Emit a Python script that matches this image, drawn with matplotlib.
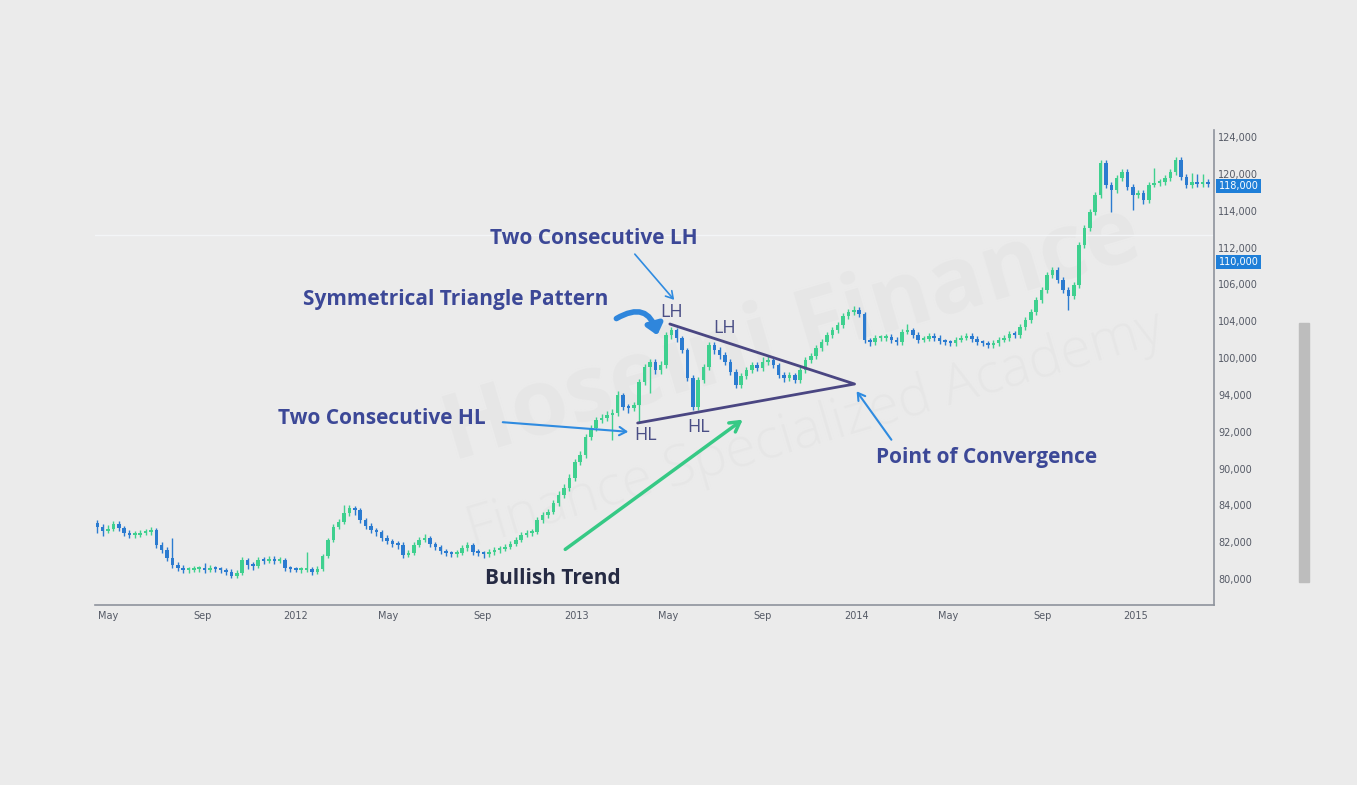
import matplotlib
matplotlib.use("Agg")
import matplotlib.pyplot as plt
import matplotlib.dates as mdates
from matplotlib.patches import Rectangle, FancyArrowPatch
import numpy as np
import pandas as pd

W, H = 1357, 785

# weekly candles, prices in thousands
first_open = 85.6
closes = [
    85.2, 84.8, 85.0, 85.5, 85.1, 84.6, 84.4, 84.4, 84.6, 84.7,
    84.9, 83.4, 82.9, 82.1, 81.4, 81.1, 80.9, 80.9, 81.0, 81.0,
    80.9, 81.1, 81.0, 80.9, 80.7, 80.3, 80.6, 81.9, 81.4, 81.3,
    81.9, 81.8, 82.0, 81.8, 81.9, 81.1, 81.0, 80.9, 80.9, 81.0,
    80.7, 81.0, 82.3, 83.9, 85.2, 85.7, 86.6, 87.1, 86.9, 85.9,
    85.3, 84.9, 84.7, 84.1, 83.8, 83.5, 83.4, 82.4, 82.6, 83.4,
    83.9, 84.1, 83.5, 83.2, 82.8, 82.6, 82.5, 82.6, 83.1, 83.4,
    82.7, 82.6, 82.5, 82.7, 82.9, 83.0, 83.2, 83.5, 83.9, 84.4,
    84.6, 84.7, 85.9, 86.4, 86.7, 87.6, 88.4, 89.1, 90.1, 91.7,
    92.4, 94.2, 95.1, 95.9, 96.1, 96.4, 96.6, 98.4, 97.2, 97.1,
    97.4, 99.7, 101.2, 101.7, 100.9, 101.4, 104.4, 104.9, 104.1, 102.9,
    100.1, 97.2, 99.9, 101.2, 103.4, 102.9, 102.4, 101.7, 100.7, 99.4,
    100.3, 100.9, 101.4, 101.1, 101.7, 101.9, 101.4, 100.4, 100.1, 100.4,
    99.9, 100.9, 101.9, 102.3, 103.1, 103.7, 104.4, 104.9, 105.4, 106.3,
    106.7, 106.9, 106.5, 103.9, 103.7, 104.1, 104.1, 104.2, 103.9, 103.7,
    104.7, 104.9, 104.4, 103.9, 104.0, 104.3, 104.1, 103.8, 103.7, 103.6,
    103.9, 104.1, 104.3, 104.0, 103.7, 103.6, 103.4, 103.6, 103.9, 104.1,
    104.5, 104.4, 105.2, 105.9, 106.7, 107.9, 108.9, 110.4, 110.9, 109.9,
    108.9, 108.3, 109.4, 113.4, 115.1, 116.7, 118.4, 121.6, 119.4, 118.9,
    120.1, 120.7, 119.2, 118.4, 118.6, 117.9, 119.4, 119.6, 119.7, 120.1,
    120.7, 121.9, 120.2, 119.4, 119.7, 119.5, 119.7, 119.5,
]
highs = [
    85.9, 85.5, 85.4, 85.8, 85.8, 85.3, 84.9, 84.8, 84.9, 85.0,
    85.2, 85.1, 83.7, 83.2, 84.1, 81.7, 81.4, 81.2, 81.3, 81.3,
    81.6, 81.4, 81.3, 81.2, 81.1, 81.0, 80.9, 82.2, 82.1, 81.7,
    82.2, 82.2, 82.3, 82.3, 82.2, 82.1, 81.3, 81.2, 81.2, 82.7,
    81.2, 81.3, 82.5, 84.1, 85.5, 86.0, 87.4, 87.4, 87.3, 87.1,
    86.1, 85.6, 85.1, 84.9, 84.4, 84.0, 83.8, 83.7, 82.9, 83.7,
    84.2, 84.5, 84.3, 83.7, 83.4, 83.0, 82.8, 82.9, 83.4, 83.7,
    83.6, 83.0, 82.8, 83.0, 83.2, 83.3, 83.5, 83.8, 84.2, 84.7,
    84.9, 85.0, 86.2, 86.7, 87.0, 87.9, 88.8, 89.5, 90.5, 92.0,
    92.8, 94.5, 95.4, 96.2, 96.5, 96.8, 97.0, 98.8, 98.6, 97.5,
    97.7, 100.0, 101.5, 102.0, 102.0, 101.8, 104.7, 105.2, 105.1, 104.3,
    103.1, 100.4, 100.2, 101.5, 103.7, 103.7, 103.2, 102.7, 102.0, 101.0,
    100.6, 101.2, 101.7, 101.7, 102.2, 102.3, 102.1, 101.6, 100.7, 100.7,
    100.6, 101.2, 102.2, 102.6, 103.4, 104.0, 104.7, 105.2, 105.7, 106.6,
    107.0, 107.3, 107.2, 106.7, 104.1, 104.4, 104.4, 104.5, 104.5, 104.2,
    105.0, 105.5, 105.1, 104.7, 104.3, 104.6, 104.6, 104.4, 104.0, 103.9,
    104.2, 104.4, 104.6, 104.6, 104.3, 103.9, 103.8, 103.9, 104.2, 104.4,
    104.8, 104.8, 105.5, 106.2, 107.0, 108.2, 109.2, 110.7, 111.2, 111.2,
    110.2, 109.2, 109.7, 113.7, 115.4, 117.0, 118.7, 121.9, 121.9, 119.7,
    120.4, 121.0, 121.0, 119.5, 118.9, 118.9, 119.7, 121.1, 120.0, 120.4,
    121.0, 122.2, 122.2, 120.5, 120.6, 120.5, 120.5, 120.0,
]
lows = [
    84.6, 84.3, 84.6, 84.8, 84.8, 84.3, 84.1, 84.1, 84.2, 84.4,
    84.4, 83.1, 82.6, 81.8, 81.1, 80.8, 80.6, 80.6, 80.7, 80.7,
    80.6, 80.7, 80.7, 80.6, 80.4, 80.1, 80.1, 80.4, 81.0, 80.9,
    81.1, 81.5, 81.6, 81.5, 81.6, 80.8, 80.7, 80.7, 80.6, 80.7,
    80.4, 80.5, 80.8, 82.1, 83.7, 85.0, 85.5, 86.3, 86.4, 85.6,
    85.0, 84.6, 84.3, 83.8, 83.5, 83.2, 83.0, 82.1, 82.2, 82.4,
    83.2, 83.7, 83.2, 82.9, 82.5, 82.3, 82.2, 82.2, 82.4, 82.8,
    82.4, 82.3, 82.1, 82.2, 82.4, 82.6, 82.8, 83.0, 83.3, 83.7,
    84.2, 84.3, 84.5, 85.6, 86.1, 86.5, 87.3, 88.1, 88.8, 89.8,
    91.4, 92.1, 93.9, 94.8, 95.6, 95.8, 93.9, 96.3, 96.9, 96.6,
    96.8, 95.6, 99.4, 98.6, 100.5, 100.5, 101.1, 104.0, 103.7, 102.6,
    99.8, 96.9, 96.9, 99.6, 100.9, 102.5, 102.0, 101.4, 100.4, 99.1,
    99.1, 100.0, 100.6, 100.8, 100.8, 101.4, 101.1, 100.1, 99.7, 99.8,
    99.6, 99.6, 100.6, 101.6, 102.0, 102.8, 103.4, 104.1, 104.6, 105.1,
    106.0, 106.4, 106.2, 103.6, 103.3, 103.4, 103.8, 103.8, 103.6, 103.4,
    103.4, 104.5, 104.1, 103.6, 103.7, 103.8, 103.8, 103.5, 103.4, 103.3,
    103.3, 103.7, 103.9, 103.7, 103.4, 103.3, 103.1, 103.1, 103.3, 103.7,
    103.8, 104.1, 104.1, 104.9, 105.6, 106.4, 107.6, 108.6, 110.1, 109.6,
    108.6, 106.9, 108.0, 109.1, 113.1, 114.8, 116.4, 118.1, 119.1, 116.7,
    118.6, 119.8, 118.9, 116.9, 118.1, 117.5, 117.6, 119.2, 119.3, 119.4,
    119.8, 120.4, 119.9, 119.1, 119.1, 119.2, 119.2, 119.2,
]
weeks = pd.date_range("2011-04-17", periods=len(closes), freq="W")

x_tick_dates = ["2011-05-01", "2011-09-01", "2012-01-01", "2012-05-01",
                "2012-09-01", "2013-01-01", "2013-05-01", "2013-09-01",
                "2014-01-01", "2014-05-01", "2014-09-01", "2015-01-01"]
x_tick_labels = ["May", "Sep", "2012", "May", "Sep", "2013",
                 "May", "Sep", "2014", "May", "Sep", "2015"]
y_tick_labels = ["80,000", "82,000", "84,000", "90,000", "92,000", "94,000",
                 "100,000", "104,000", "106,000", "112,000", "114,000",
                 "120,000", "124,000"]
y_ticks = np.linspace(80, 124.2, 13)
price_tags = [("118,000", 119.3), ("110,000", 111.7)]

# triangle: LH start, HL start, apex
tri_top = ("2013-05-03", 105.5)
tri_bot = ("2013-03-22", 95.6)
tri_apex = ("2013-12-30", 99.5)

BG = "#ebebeb"
GREEN = "#3fd08f"
BLUE = "#2b7bd0"
NAVY = "#3c4897"


def fp(x, y):
    return (x / W, 1 - y / H)


def main():
    fig = plt.figure(figsize=(W / 100, H / 100), dpi=100, facecolor=BG)
    ax = fig.add_axes([95 / W, 1 - 605 / H, (1214 - 95) / W, (605 - 130) / H])
    ax.patch.set_alpha(0)

    # watermark
    fig.text(*fp(792, 335), "Hoseini Finance", fontsize=66, color="#e6e6e6",
             rotation=16.5, ha="center", va="center", fontweight="bold",
             family="Open Sans", zorder=-1)
    fig.text(*fp(815, 430), "Finance Specialized Academy", fontsize=40,
             color="#e6e6e6", rotation=16.5, ha="center", va="center",
             family="Open Sans", fontweight="light", zorder=-1)

    opens = [first_open] + closes[:-1]
    x = mdates.date2num(weeks)
    for xi, o, c, hi, lo in zip(x, opens, closes, highs, lows):
        col = GREEN if c >= o else BLUE
        ax.vlines(xi, lo, hi, color=col, lw=1, zorder=3)
        ax.bar(xi, max(abs(c - o), 0.2), bottom=min(o, c), width=4.6,
               color=col, zorder=3)

    ax.axhline(114.4, color="#f3f5f7", lw=1, zorder=1)

    t = [mdates.datestr2num(p[0]) for p in (tri_top, tri_apex, tri_bot)]
    v = [tri_top[1], tri_apex[1], tri_bot[1]]
    ax.plot(t, v, color="#4a4682", lw=2, zorder=4, solid_capstyle="round")

    ax.set_xlim(mdates.datestr2num("2011-04-14"), mdates.datestr2num("2015-04-13"))
    ax.set_ylim(77.4, 124.9)
    ax.set_xticks([mdates.datestr2num(d) for d in x_tick_dates])
    ax.set_xticklabels(x_tick_labels)
    ax.set_yticks(y_ticks)
    ax.set_yticklabels(y_tick_labels)
    ax.yaxis.tick_right()
    ax.tick_params(length=0, labelsize=7, labelcolor="#555a66")
    ax.tick_params(axis="x", pad=4)
    ax.tick_params(axis="y", pad=3)
    for s in ("top", "left"):
        ax.spines[s].set_visible(False)
    for s in ("right", "bottom"):
        ax.spines[s].set_color("#8e939c")
        ax.spines[s].set_linewidth(1.2)

    for label, val in price_tags:
        ax.text(1.004, val, label, transform=ax.get_yaxis_transform(),
                fontsize=7, color="white", va="center", ha="left",
                bbox=dict(boxstyle="square,pad=0.25", fc="#1f7fd8", ec="none"))

    # annotations
    bold = dict(fontsize=15, fontweight="bold", color=NAVY, family="Open Sans",
                ha="center", va="center")
    fig.text(*fp(594, 238), "Two Consecutive LH", **bold)
    fig.text(*fp(456, 300), "Symmetrical Triangle Pattern", **bold)
    fig.text(*fp(382, 418), "Two Consecutive HL", **bold)
    fig.text(*fp(987, 457), "Point of Convergence", **bold)
    bold["color"] = "#262b44"
    fig.text(*fp(553, 579), "Bullish Trend", **bold)

    small = dict(fontsize=13, color="#4b4f86", family="Open Sans",
                 ha="center", va="center")
    fig.text(*fp(672, 312), "LH", **small)
    fig.text(*fp(725, 328), "LH", **small)
    fig.text(*fp(646, 435), "HL", **small)
    fig.text(*fp(699, 427), "HL", **small)

    arrow_blue = "#2f8be0"
    for start, end, lw in [((633, 252), (676, 302), 1.2),
                           ((500, 422), (631, 432), 1.5),
                           ((893, 442), (855, 389), 1.5)]:
        ax.annotate("", xy=fp(*end), xytext=fp(*start),
                    xycoords="figure fraction", textcoords="figure fraction",
                    arrowprops=dict(arrowstyle="->,head_length=0.5,head_width=0.3",
                                    color=arrow_blue, lw=lw))
    ax.annotate("", xy=fp(745, 418), xytext=fp(563, 551),
                xycoords="figure fraction", textcoords="figure fraction",
                arrowprops=dict(arrowstyle="->,head_length=0.7,head_width=0.4",
                                color="#36c985", lw=2.5))
    hook = FancyArrowPatch(fp(614, 320), fp(658, 338),
                           transform=fig.transFigure,
                           connectionstyle="arc3,rad=-0.7",
                           arrowstyle="-|>,head_length=6,head_width=5",
                           color="#2f86dc", lw=4, mutation_scale=1)
    fig.patches.append(hook)

    # scrollbar
    fig.patches.append(Rectangle(fp(1299, 582), 10 / W, 259 / H,
                                 transform=fig.transFigure, color="#bdbdbd"))

    fig.savefig("out.png", dpi=100, facecolor=BG)


if __name__ == "__main__":
    main()
